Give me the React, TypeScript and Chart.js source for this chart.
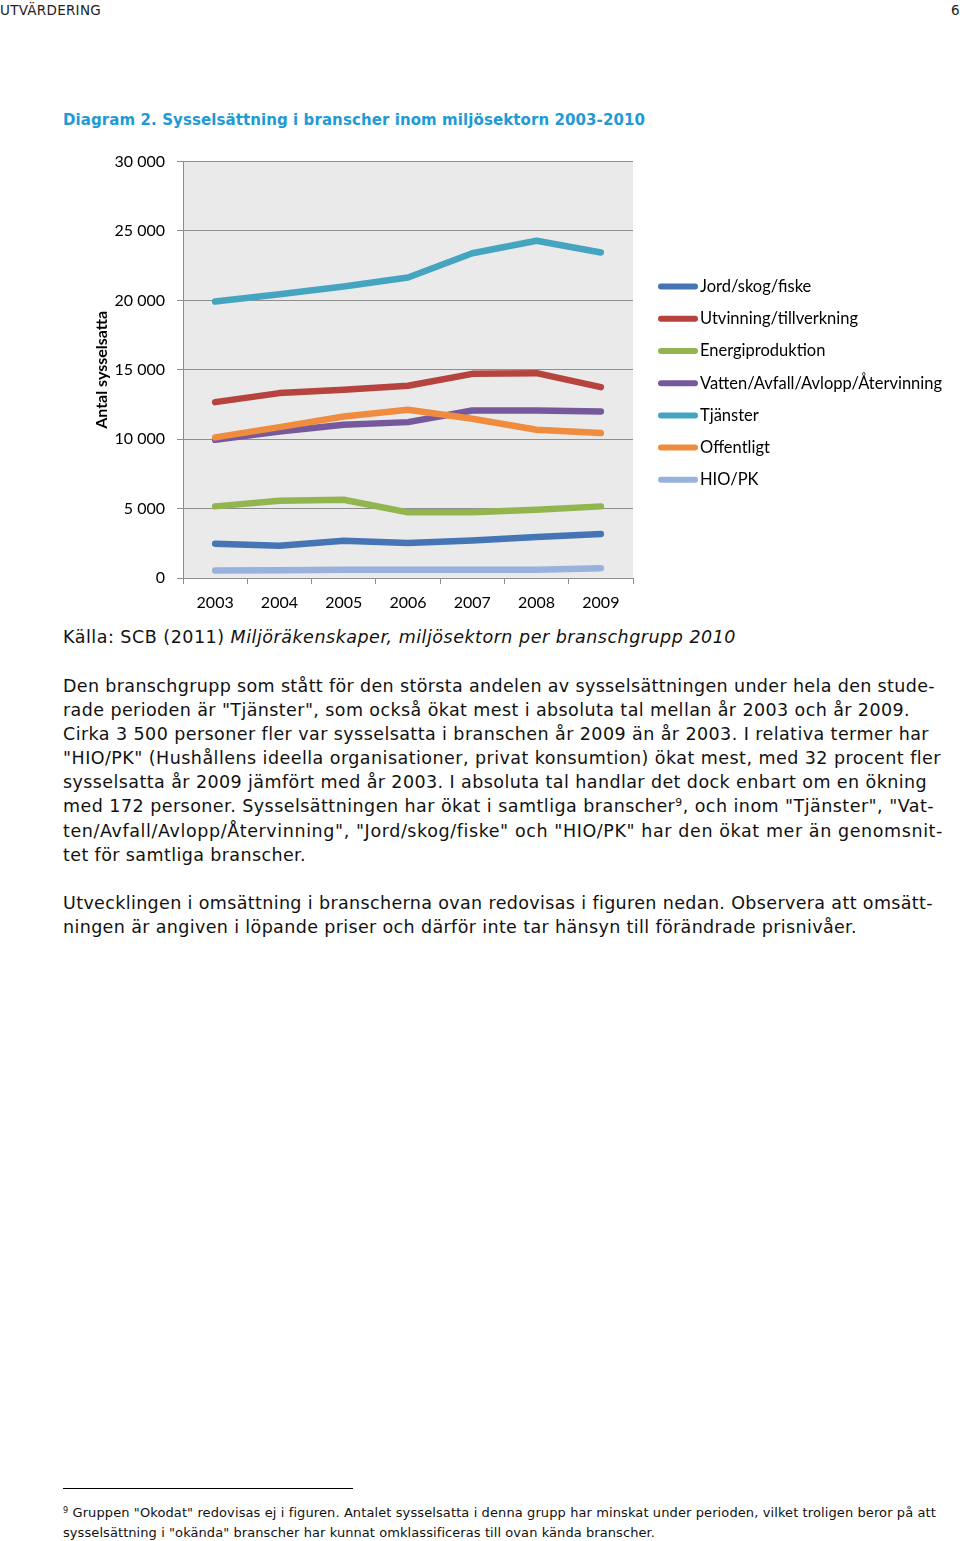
import React, { useEffect, useLayoutEffect, useRef } from "react";
import { Chart, registerables } from "chart.js";

Chart.register(...registerables);

// ---------- data ----------
const years = ["2003", "2004", "2005", "2006", "2007", "2008", "2009"];
const seriesNames = [
  "Jord/skog/fiske",
  "Utvinning/tillverkning",
  "Energiproduktion",
  "Vatten/Avfall/Avlopp/Återvinning",
  "Tjänster",
  "Offentligt",
  "HIO/PK",
];
const jordSkogFiske = [2470, 2330, 2690, 2520, 2710, 2950, 3170];
const utvinningTillverkning = [12670, 13320, 13560, 13850, 14710, 14760, 13750];
const energiproduktion = [5160, 5570, 5640, 4730, 4730, 4920, 5160];
const vattenAvfallAvlopp = [9960, 10560, 11040, 11230, 12070, 12070, 12000];
const tjanster = [19920, 20450, 21000, 21650, 23400, 24300, 23450];
const offentligt = [10130, 10870, 11640, 12120, 11470, 10680, 10440];
const hioPk = [540, 550, 590, 590, 590, 600, 710];
const seriesValues = [
  jordSkogFiske,
  utvinningTillverkning,
  energiproduktion,
  vattenAvfallAvlopp,
  tjanster,
  offentligt,
  hioPk,
];
const seriesColors = ["#4675B5", "#B7433F", "#93B550", "#76589C", "#45A5C0", "#F08C3F", "#98B2DC"];
const yTickLabels = ["0", "5 000", "10 000", "15 000", "20 000", "25 000", "30 000"];
const yTickValues = [0, 5000, 10000, 15000, 20000, 25000, 30000];

const CHART_FONT = "Lato, 'Open Sans', sans-serif";
const GRID = "#8E8E8E";

const plotBg = {
  id: "plotBg",
  beforeDraw(chart: any) {
    const { ctx, chartArea } = chart;
    ctx.save();
    ctx.fillStyle = "#EAEAEA";
    ctx.fillRect(chartArea.left, chartArea.top, chartArea.right - chartArea.left, chartArea.bottom - chartArea.top);
    ctx.restore();
  },
};

const sideLegend = {
  id: "sideLegend",
  afterDraw(chart: any) {
    const { ctx, chartArea } = chart;
    ctx.save();
    chart.data.datasets.forEach((ds: any, i: number) => {
      const y = chartArea.top + 125 + i * 32.2;
      ctx.beginPath();
      ctx.lineCap = "round";
      ctx.lineWidth = 6;
      ctx.strokeStyle = ds.borderColor;
      ctx.moveTo(chartArea.right + 28, y);
      ctx.lineTo(chartArea.right + 62, y);
      ctx.stroke();
      ctx.fillStyle = "#000";
      ctx.font = "16.5px " + CHART_FONT;
      ctx.textBaseline = "middle";
      ctx.textAlign = "left";
      ctx.fillText(ds.label, chartArea.right + 67, y);
    });
    ctx.restore();
  },
};

function EmploymentChart() {
  const ref = useRef<HTMLCanvasElement>(null);
  useEffect(() => {
    if (!ref.current) return;
    const chart = new Chart(ref.current, {
      type: "line",
      data: {
        labels: years,
        datasets: seriesNames.map((name, i) => ({
          label: name,
          data: seriesValues[i],
          borderColor: seriesColors[i],
          backgroundColor: seriesColors[i],
          borderWidth: 6.5,
          borderCapStyle: "round",
          borderJoinStyle: "round",
          pointRadius: 0,
          tension: 0,
          fill: false,
          order: seriesNames.length - i,
        })),
      },
      options: {
        animation: false,
        responsive: false,
        maintainAspectRatio: false,
        devicePixelRatio: 1,
        layout: { padding: { left: 28, right: 327, top: 20, bottom: 0 } },
        plugins: {
          legend: { display: false },
          tooltip: { enabled: false },
        },
        scales: {
          x: {
            type: "category",
            offset: true,
            grid: {
              offset: true,
              drawOnChartArea: false,
              drawTicks: true,
              tickLength: 6,
              color: GRID,
            },
            border: { display: true, color: GRID, width: 1 },
            ticks: {
              font: { family: CHART_FONT, size: 16 },
              color: "#000",
              padding: 9,
              maxRotation: 0,
              autoSkip: false,
            },
            afterFit: (s: any) => {
              s.height = 42;
            },
          },
          y: {
            min: 0,
            max: 30000,
            afterBuildTicks: (s: any) => {
              s.ticks = yTickValues.map((v) => ({ value: v }));
            },
            ticks: {
              callback: (_v: any, idx: number) => yTickLabels[idx],
              font: { family: CHART_FONT, size: 16 },
              color: "#000",
              padding: 12,
            },
            grid: { color: GRID, tickLength: 6, drawTicks: true },
            border: { display: true, color: GRID, width: 1 },
            title: {
              display: true,
              text: "Antal sysselsatta",
              font: { family: CHART_FONT, size: 16, weight: "bold" },
              color: "#000",
            },
            afterFit: (s: any) => {
              s.width = 95;
            },
          },
        },
      },
      plugins: [plotBg, sideLegend],
    } as any);
    return () => chart.destroy();
  }, []);
  return (
    <canvas
      ref={ref}
      width={900}
      height={480}
      style={{ position: "absolute", left: 60, top: 140, width: 900, height: 480 }}
    />
  );
}

type LineProps = {
  x: number;
  y: number;
  w?: number;
  size: number;
  family?: string;
  weight?: any;
  color?: string;
  children: React.ReactNode;
};

function TextLine({ x, y, w, size, family, weight, color, children }: LineProps) {
  const ref = useRef<HTMLDivElement>(null);
  const lh = Math.round(size * 1.3);
  useLayoutEffect(() => {
    const el = ref.current;
    if (!el || !w) return;
    el.style.letterSpacing = "0px";
    const natural = el.getBoundingClientRect().width;
    const n = (el.textContent || "").length;
    if (n > 1) el.style.letterSpacing = (w - natural) / n + "px";
  }, [w]);
  return (
    <div
      ref={ref}
      style={{
        position: "absolute",
        left: x,
        top: y - lh / 2,
        whiteSpace: "nowrap",
        fontSize: size,
        lineHeight: lh + "px",
        fontFamily: family || "'DejaVu Sans', sans-serif",
        fontWeight: weight || "normal",
        color: color || "#111",
      }}
    >
      {children}
    </div>
  );
}

const BODY = 17.5;
const sup = (t: string) => (
  <span style={{ fontSize: "0.62em", verticalAlign: "0.55em", lineHeight: 0 }}>{t}</span>
);

export default function App() {
  return (
    <div
      style={{
        position: "absolute",
        left: 0,
        top: 0,
        width: 960,
        height: 1541,
        background: "#fff",
        overflow: "hidden",
      }}
    >
      <TextLine x={0} y={10} w={101} size={13.5} color="#222">UTVÄRDERING</TextLine>
      <TextLine x={951} y={10} size={13.5} color="#222">6</TextLine>
      <TextLine x={63} y={120} w={582} size={15} weight="bold" color="#1E9AD6">
        Diagram 2. Sysselsättning i branscher inom miljösektorn 2003-2010
      </TextLine>

      <EmploymentChart />

      <TextLine x={63} y={637} w={673} size={BODY}>
        Källa: SCB (2011) <i>Miljöräkenskaper, miljösektorn per branschgrupp 2010</i>
      </TextLine>

      <TextLine x={63} y={686} w={872} size={BODY}>
        Den branschgrupp som stått för den största andelen av sysselsättningen under hela den stude-
      </TextLine>
      <TextLine x={63} y={710} w={847} size={BODY}>
        rade perioden är "Tjänster", som också ökat mest i absoluta tal mellan år 2003 och år 2009.
      </TextLine>
      <TextLine x={63} y={734} w={866} size={BODY}>
        Cirka 3 500 personer fler var sysselsatta i branschen år 2009 än år 2003. I relativa termer har
      </TextLine>
      <TextLine x={63} y={758} w={878} size={BODY}>
        "HIO/PK" (Hushållens ideella organisationer, privat konsumtion) ökat mest, med 32 procent fler
      </TextLine>
      <TextLine x={63} y={782} w={864} size={BODY}>
        sysselsatta år 2009 jämfört med år 2003. I absoluta tal handlar det dock enbart om en ökning
      </TextLine>
      <TextLine x={63} y={806} w={871} size={BODY}>
        med 172 personer. Sysselsättningen har ökat i samtliga branscher{sup("9")}, och inom "Tjänster", "Vat-
      </TextLine>
      <TextLine x={63} y={831} w={880} size={BODY}>
        ten/Avfall/Avlopp/Återvinning", "Jord/skog/fiske" och "HIO/PK" har den ökat mer än genomsnit-
      </TextLine>
      <TextLine x={63} y={855} w={243} size={BODY}>
        tet för samtliga branscher.
      </TextLine>

      <TextLine x={63} y={903} w={870} size={BODY}>
        Utvecklingen i omsättning i branscherna ovan redovisas i figuren nedan. Observera att omsätt-
      </TextLine>
      <TextLine x={63} y={927} w={794} size={BODY}>
        ningen är angiven i löpande priser och därför inte tar hänsyn till förändrade prisnivåer.
      </TextLine>

      <div
        style={{
          position: "absolute",
          left: 63,
          top: 1488,
          width: 290,
          height: 1,
          background: "#000",
        }}
      />
      <TextLine x={63} y={1512} w={873} size={13}>
        {sup("9")} Gruppen "Okodat" redovisas ej i figuren. Antalet sysselsatta i denna grupp har minskat under perioden, vilket troligen beror på att
      </TextLine>
      <TextLine x={63} y={1532} w={592} size={13}>
        sysselsättning i "okända" branscher har kunnat omklassificeras till ovan kända branscher.
      </TextLine>
    </div>
  );
}
